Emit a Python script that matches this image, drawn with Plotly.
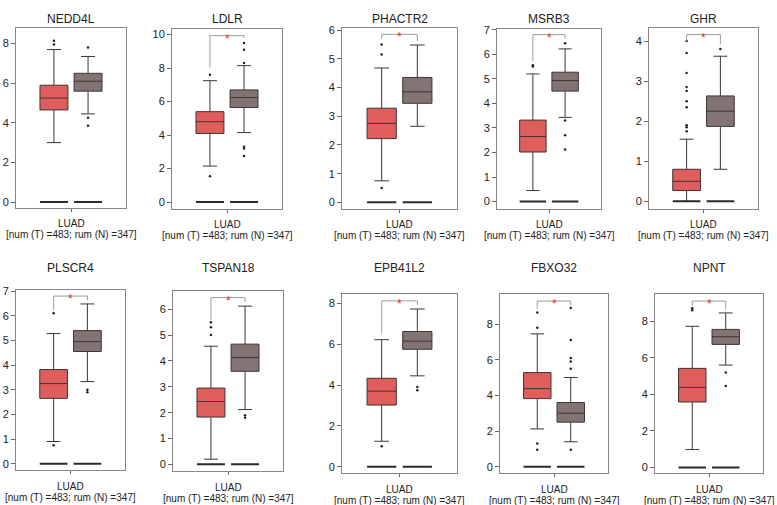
import plotly.graph_objects as go

# GEPIA style expression boxplots, LUAD tumour (T) vs normal (N)
genes = ['NEDD4L', 'LDLR', 'PHACTR2', 'MSRB3', 'GHR',
         'PLSCR4', 'TSPAN18', 'EPB41L2', 'FBXO32', 'NPNT']

# tumour box stats: lower whisker, q1, median, q3, upper whisker
t_lo  = [3.00, 2.15, 0.75, 0.45, 0.00, 0.90, 0.20, 1.25, 2.12, 0.98]
t_q1  = [4.65, 4.10, 2.22, 2.02, 0.27, 2.65, 1.83, 3.02, 3.82, 3.58]
t_med = [5.25, 4.80, 2.75, 2.65, 0.50, 3.25, 2.43, 3.70, 4.38, 4.38]
t_q3  = [5.90, 5.40, 3.28, 3.32, 0.80, 3.82, 2.95, 4.33, 5.28, 5.42]
t_hi  = [7.70, 7.25, 4.68, 5.20, 1.55, 5.28, 4.57, 6.22, 7.45, 7.72]

# normal box stats
n_lo  = [4.45, 4.15, 2.65, 3.43, 0.80, 3.33, 2.12, 4.45, 1.40, 5.60]
n_q1  = [5.60, 5.65, 3.45, 4.50, 1.87, 4.55, 3.60, 5.75, 2.50, 6.73]
n_med = [6.10, 6.25, 3.85, 4.93, 2.25, 4.95, 4.13, 6.15, 3.00, 7.15]
n_q3  = [6.50, 6.70, 4.35, 5.27, 2.63, 5.40, 4.65, 6.62, 3.60, 7.55]
n_hi  = [7.35, 8.15, 5.48, 6.22, 3.62, 6.48, 6.12, 7.72, 5.00, 8.45]

# points outside the whiskers
t_out = [[8.15, 7.95], [7.6, 1.55], [5.5, 5.15, 0.5], [5.55, 5.5],
         [4.0, 3.7, 3.2, 2.85, 2.75, 2.5, 2.35, 1.9, 1.85, 1.75],
         [6.1, 0.75], [5.5, 5.3, 5.0], [1.0], [8.65, 7.8, 1.3, 0.95], [8.7, 8.6]]
n_out = [[7.8, 4.25, 3.85], [9.5, 9.1, 8.3, 3.3, 3.2, 2.75], [], [6.45, 3.3, 2.7, 2.12],
         [3.8], [3.0, 2.9], [1.9, 1.8], [3.9, 3.75], [8.9, 7.1, 6.1, 5.9, 5.5, 0.95], [5.2, 4.45]]

# significance bracket: top, left leg end, right leg end (None = not significant)
brk_top   = [None, 9.94, 5.85, 6.80, 4.16, 6.80, 6.45, 8.12, 9.29, 9.10]
brk_left  = [None, 8.04, 5.68, 5.72, 4.00, 6.23, 5.59, 6.52, 8.88, 8.85]
brk_right = [None, 9.80, 5.62, 6.66, 3.92, 6.63, 6.29, 7.92, 9.03, 8.63]

y_min = [-0.3, -0.41, -0.23, -0.30, -0.19, -0.27, -0.27, -0.32, -0.37, -0.32]
y_max = [8.8, 10.35, 6.08, 7.04, 4.33, 7.04, 6.70, 8.45, 9.68, 9.48]
y_dtick = [2, 2, 1, 1, 1, 1, 1, 2, 2, 2]

# plot areas in pixels: left, right, top, bottom
boxes_px = [(16, 126, 23, 205), (172, 282, 24, 206), (342, 457, 23, 206),
            (497, 601, 24, 206), (649, 758, 23, 206),
            (16, 125, 288, 470), (173, 283, 289, 471), (342, 457, 292, 473),
            (500, 608, 292, 473), (655, 763, 292, 473)]

W, H = 777, 505
RED = '#DF5D5B'
GREY = '#827474'
FONT = 'Liberation Sans, Arial, sans-serif'
BOX_W = 0.82

fig = go.Figure()
annotations = []

for i, g in enumerate(genes):
    sfx = '' if i == 0 else str(i + 1)
    xa, ya = 'x' + sfx, 'y' + sfx
    groups = [(1, t_lo[i], t_q1[i], t_med[i], t_q3[i], t_hi[i], RED, t_out[i]),
              (2, n_lo[i], n_q1[i], n_med[i], n_q3[i], n_hi[i], GREY, n_out[i])]
    for pos, lo, q1, med, q3, hi, col, outs in groups:
        fig.add_trace(go.Box(x=[pos], q1=[q1], median=[med], q3=[q3],
                             lowerfence=[lo], upperfence=[hi],
                             width=BOX_W, whiskerwidth=0.5, fillcolor=col,
                             line=dict(color='#3e3535', width=1),
                             boxpoints=False, xaxis=xa, yaxis=ya,
                             showlegend=False, hoverinfo='skip'))
        fig.add_trace(go.Scatter(x=[pos - BOX_W / 2, pos + BOX_W / 2], y=[0, 0],
                                 mode='lines', line=dict(color='#2b2b2b', width=2),
                                 xaxis=xa, yaxis=ya, showlegend=False, hoverinfo='skip'))
        if outs:
            fig.add_trace(go.Scatter(x=[pos] * len(outs), y=outs, mode='markers',
                                     marker=dict(size=2.5, color='#222'),
                                     xaxis=xa, yaxis=ya, showlegend=False, hoverinfo='skip'))
    if brk_top[i] is not None:
        fig.add_trace(go.Scatter(x=[1, 1, 2, 2],
                                 y=[brk_left[i], brk_top[i], brk_top[i], brk_right[i]],
                                 mode='lines', line=dict(color='#a09a9a', width=1),
                                 xaxis=xa, yaxis=ya, showlegend=False, hoverinfo='skip'))
        annotations.append(dict(x=1.5, y=brk_top[i], xref=xa, yref=ya, text='*',
                                showarrow=False, xanchor='center', yanchor='middle', yshift=-3,
                                font=dict(color='#E8302E', size=12, family=FONT)))

    l, r, t, b = boxes_px[i]
    dom_x = [l / W, r / W]
    dom_y = [1 - b / H, 1 - t / H]
    axis_common = dict(showline=True, linecolor='#8c8484', linewidth=1, mirror=True,
                       showgrid=False, zeroline=False, ticks='outside',
                       tickcolor='#666', tickfont=dict(size=11, color='#222', family=FONT))
    fig.update_layout({
        'xaxis' + sfx: dict(domain=dom_x, anchor=ya, range=[-0.113, 3.113],
                            tickvals=[1.5], showticklabels=False, ticklen=3, **axis_common),
        'yaxis' + sfx: dict(domain=dom_y, anchor=xa, range=[y_min[i], y_max[i]],
                            dtick=y_dtick[i], ticklen=4, **axis_common),
    })

    cx = (l + r) / 2 / W
    title_y = 14 if i < 5 else 266
    labels = [(g, title_y, 12), ('LUAD', b + 16, 10),
              ('[num (T) =483; rum (N) =347]', b + 27, 10)]
    for text, py, size in labels:
        annotations.append(dict(x=cx, y=1 - py / H, xref='paper', yref='paper', text=text,
                                showarrow=False, xanchor='center', yanchor='middle',
                                font=dict(size=size, color='#222', family=FONT)))

fig.update_layout(width=W, height=H, margin=dict(l=0, r=0, t=0, b=0),
                  paper_bgcolor='white', plot_bgcolor='white',
                  annotations=annotations, boxmode='overlay')

fig.write_html('out.html', config={'displayModeBar': False},
               post_script="document.body.style.margin='0';")
